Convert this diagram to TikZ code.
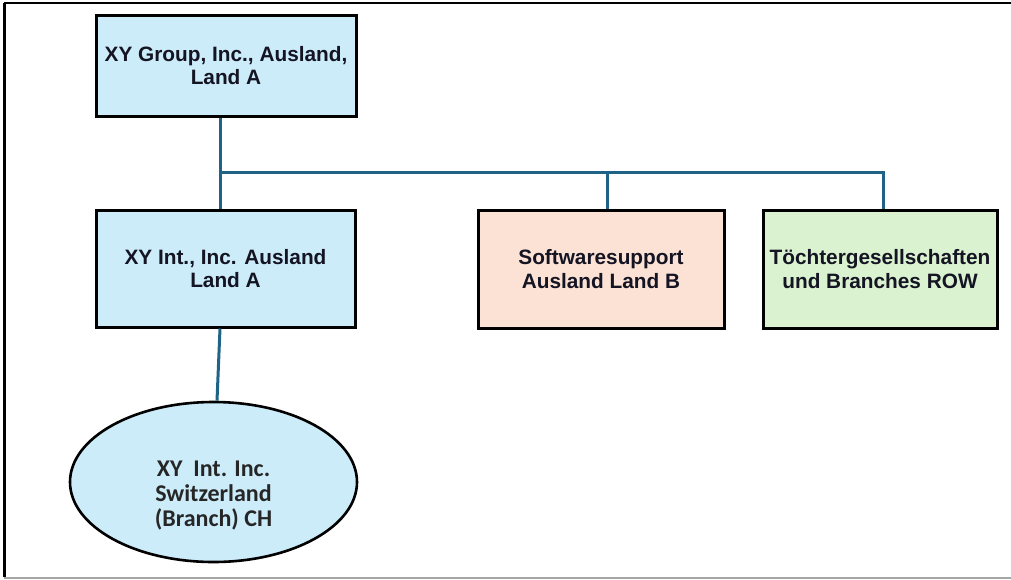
\documentclass[tikz,border=0pt]{standalone}
\usepackage{fontspec}
\setmainfont{Liberation Sans}
\newfontfamily\calfont{Carlito}
\usetikzlibrary{shapes,positioning,calc}
\definecolor{boxblue}{RGB}{204,236,250}
\definecolor{boxsalmon}{RGB}{251,226,213}
\definecolor{boxgreen}{RGB}{218,242,208}
\definecolor{linkteal}{RGB}{31,100,135}
\definecolor{textdark}{RGB}{20,20,35}

\tikzset{
    orgbox/.style={draw=black, line width=3pt, inner sep=0pt, align=center,
        text=textdark, font=\fontsize{20.8}{23.5}\selectfont\bfseries},
    link/.style={draw=linkteal, line width=3pt}
}

\begin{document}
\begin{tikzpicture}[x=1pt, y=-1pt]
    \useasboundingbox (0,0) rectangle (1011,579);
    % frame
    \draw[line width=2pt] (4,3) -- (1011,3);
    \draw[line width=3pt] (4.5,3) -- (4.5,577);
    \draw[gray!70, line width=1.5pt] (4,578) -- (1011,578);

    \node[orgbox, fill=boxblue, minimum width=260pt, minimum height=101pt] (group) at (226,65.5) {XY Group, Inc., Ausland,\\Land A};
    \node[orgbox, fill=boxblue, minimum width=259pt, minimum height=117pt] (intl) at (225.5,268.5) {XY Int., Inc. Ausland\\Land A};
    \node[orgbox, fill=boxsalmon, minimum width=246pt, minimum height=118pt] (support) at (601,269) {Softwaresupport\\Ausland Land B};
    \node[orgbox, fill=boxgreen, minimum width=234pt, minimum height=118pt] (row) at (880,269) {Töchtergesellschaften\\und Branches ROW};
    \node[ellipse, draw=black, line width=2.6pt, fill=boxblue, minimum width=287pt, minimum height=160pt,
        inner sep=0pt, align=center, text=black!85, font=\calfont\fontsize{24}{25}\selectfont\bfseries] (branch) at (213.5,482) {\mbox{}\\[18pt]XY~ Int. Inc.\\Switzerland\\(Branch) CH};

    % connectors
    \coordinate (bus) at (220,172);
    \coordinate (supportdrop) at (607,172);
    \coordinate (rowdrop) at (883,172);
    \draw[link] (bus |- group.south) -- (bus |- intl.north);
    \draw[link] (bus) -- (rowdrop) -- (rowdrop |- row.north);
    \draw[link] (supportdrop) -- (supportdrop |- support.north);
    \draw[link] (bus |- intl.south) -- ([xshift=3.5pt]branch.north);
\end{tikzpicture}
\end{document}
